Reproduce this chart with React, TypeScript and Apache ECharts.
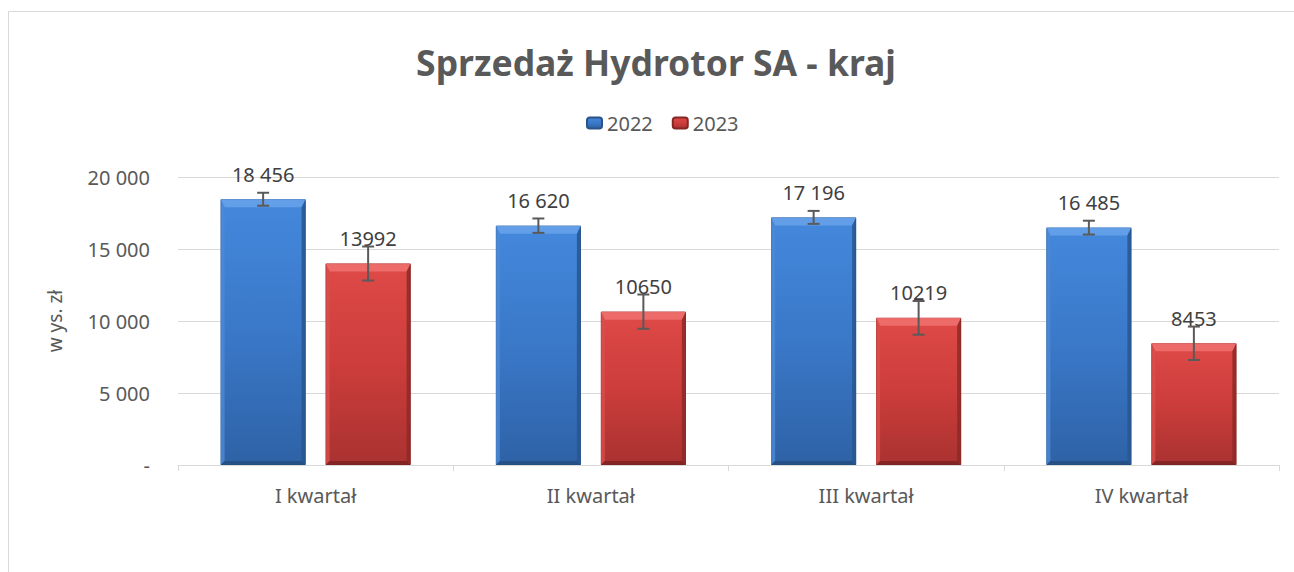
import React, { useEffect, useRef } from "react";
import * as echarts from "echarts";

const categories = ["I kwartał", "II kwartał", "III kwartał", "IV kwartał"];
const seriesNames = ["2022", "2023"];
const values2022 = [18456, 16620, 17196, 16485];
const values2023 = [13992, 10650, 10219, 8453];
const errors2022 = [450, 500, 450, 480];
const errors2023 = [1180, 1190, 1170, 1160];
const yTicks = [0, 5000, 10000, 15000, 20000];
const titleText = "Sprzedaż Hydrotor SA - kraj";
const yAxisName = "w ys. zł";

const FONT = "'Noto Sans', 'Open Sans', sans-serif";
const BAR_W = 85;
const BAR_GAP = 20;

const spaceGroup = (v: number) =>
  String(Math.round(v)).replace(/\B(?=(\d{3})+(?!\d))/g, " ");

const palettes = [
  {
    grad: ["#4488dc", "#3a78c8", "#2e62a6"],
    border: "#2b5386",
    top: "#67a2ea",
    left: "#4c8ad6",
    right: "#28568f",
    bottom: "#244d80",
  },
  {
    grad: ["#de4a47", "#cc3d3b", "#a93230"],
    border: "#842624",
    top: "#ee706d",
    left: "#d84e4b",
    right: "#8e2927",
    bottom: "#7e2322",
  },
];

function makeOverlay(idx: number, values: number[], errs: number[]) {
  const pal = palettes[idx];
  const offset = (idx === 0 ? -1 : 1) * (BAR_W + BAR_GAP) / 2;
  return {
    type: "custom",
    name: "overlay" + idx,
    z: 5,
    silent: true,
    data: values.map((v, i) => [i, v, errs[i]]),
    renderItem: (params: any, api: any) => {
      const ci = api.value(0);
      const v = api.value(1);
      const e = api.value(2);
      const pTop = api.coord([ci, v]);
      const pBase = api.coord([ci, 0]);
      const cx = pTop[0] + offset;
      const x0 = cx - BAR_W / 2;
      const x1 = cx + BAR_W / 2;
      const yT = pTop[1];
      const yB = pBase[1];
      const bt = 8;
      const bs = 4;
      const bb = 4;
      const eHi = api.coord([ci, v + e])[1];
      const eLo = api.coord([ci, v - e])[1];
      const cap = 6;
      const errStyle = { stroke: "#5a5a5a", lineWidth: 2 };
      return {
        type: "group",
        children: [
          {
            type: "polygon",
            shape: { points: [[x0, yT], [x1, yT], [x1 - bs, yT + bt], [x0 + bs, yT + bt]] },
            style: { fill: pal.top, opacity: 0.9 },
          },
          {
            type: "polygon",
            shape: { points: [[x0, yT], [x0 + bs, yT + bt], [x0 + bs, yB - bb], [x0, yB]] },
            style: { fill: pal.left, opacity: 0.8 },
          },
          {
            type: "polygon",
            shape: { points: [[x1, yT], [x1 - bs, yT + bt], [x1 - bs, yB - bb], [x1, yB]] },
            style: { fill: pal.right, opacity: 0.85 },
          },
          {
            type: "polygon",
            shape: { points: [[x0, yB], [x0 + bs, yB - bb], [x1 - bs, yB - bb], [x1, yB]] },
            style: { fill: pal.bottom, opacity: 0.85 },
          },
          { type: "line", shape: { x1: cx, y1: eHi, x2: cx, y2: eLo }, style: errStyle },
          { type: "line", shape: { x1: cx - cap, y1: eHi, x2: cx + cap, y2: eHi }, style: errStyle },
          { type: "line", shape: { x1: cx - cap, y1: eLo, x2: cx + cap, y2: eLo }, style: errStyle },
        ],
      };
    },
  };
}

function barSeries(idx: number, values: number[], fmt: (v: number) => string) {
  const pal = palettes[idx];
  return {
    type: "bar",
    name: seriesNames[idx],
    data: values,
    barWidth: BAR_W,
    barGap: (BAR_GAP / BAR_W) * 100 + "%",
    z: 2,
    itemStyle: {
      color: new echarts.graphic.LinearGradient(0, 0, 0, 1, [
        { offset: 0, color: pal.grad[0] },
        { offset: 0.5, color: pal.grad[1] },
        { offset: 1, color: pal.grad[2] },
      ]),
      borderColor: pal.border,
      borderWidth: 1,
    },
    label: {
      show: true,
      position: "top",
      distance: 15,
      formatter: (p: any) => fmt(p.value),
      color: "#404040",
      fontSize: 20,
      fontFamily: FONT,
    },
  };
}

export default function App() {
  const ref = useRef<HTMLDivElement>(null);
  useEffect(() => {
    if (!ref.current) return;
    const chart = echarts.init(ref.current, undefined, { renderer: "svg" });
    chart.setOption({
      animation: false,
      backgroundColor: "#ffffff",
      textStyle: { fontFamily: FONT },
      graphic: [
        {
          type: "rect",
          z: -10,
          silent: true,
          shape: { x: 8.5, y: 11.5, width: 1300, height: 620 },
          style: { fill: "none", stroke: "#d9d9d9", lineWidth: 1 },
        },
        {
          type: "text",
          x: 656,
          y: 62,
          style: {
            text: titleText,
            fontSize: 35.5,
            fontWeight: "bold",
            fontFamily: FONT,
            fill: "#595959",
            textAlign: "center",
            textVerticalAlign: "middle",
          },
        },
      ],
      legend: {
        data: seriesNames,
        left: 586,
        top: 113,
        padding: 0,
        itemWidth: 15,
        itemHeight: 11,
        itemGap: 19,
        textStyle: { fontSize: 20, color: "#595959", fontFamily: FONT },
      },
      grid: { left: 178, right: 15, top: 177, bottom: 107 },
      xAxis: {
        type: "category",
        data: categories,
        axisLine: { show: true, lineStyle: { color: "#d9d9d9", width: 1 } },
        axisTick: { show: true, length: 6, lineStyle: { color: "#d9d9d9" } },
        axisLabel: { fontSize: 20, color: "#595959", margin: 20, fontFamily: FONT },
      },
      yAxis: {
        type: "value",
        min: yTicks[0],
        max: yTicks[yTicks.length - 1],
        interval: yTicks[1] - yTicks[0],
        axisLine: { show: false },
        axisTick: { show: false },
        splitLine: { lineStyle: { color: "#d9d9d9", width: 1 } },
        axisLabel: {
          fontSize: 20,
          color: "#595959",
          margin: 28,
          fontFamily: FONT,
          formatter: (v: number) => (v === 0 ? "-" : spaceGroup(v)),
        },
        name: yAxisName,
        nameLocation: "middle",
        nameRotate: 90,
        nameGap: 114,
        nameTextStyle: { fontSize: 19, color: "#595959", fontFamily: FONT },
      },
      series: [
        barSeries(0, values2022, spaceGroup),
        barSeries(1, values2023, (v) => String(v)),
        makeOverlay(0, values2022, errors2022),
        makeOverlay(1, values2023, errors2023),
      ],
    });
    return () => chart.dispose();
  }, []);
  return (
    <div
      ref={ref}
      style={{ position: "absolute", left: 0, top: 0, width: 1294, height: 572 }}
    />
  );
}
